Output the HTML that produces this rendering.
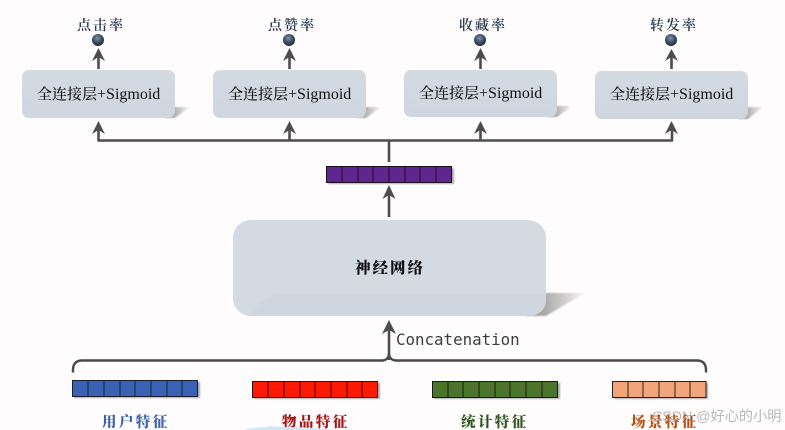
<!DOCTYPE html>
<html><head><meta charset="utf-8"><style>
html,body{margin:0;padding:0;background:#fefcfd;overflow:hidden}
svg{display:block}
.s{font-family:"Liberation Serif","Noto Serif CJK SC",serif}
.c{font-family:"Noto Serif CJK SC",serif}
</style></head><body>
<svg width="785" height="430" viewBox="0 0 785 430" xmlns="http://www.w3.org/2000/svg">
<defs>
<radialGradient id="b" cx="45%" cy="35%" r="65%"><stop offset="0" stop-color="#7f93aa"/><stop offset=".55" stop-color="#3c5068"/><stop offset="1" stop-color="#1f2c3c"/></radialGradient>
<linearGradient id="fb" x1="0" y1="0" x2="0" y2="1"><stop offset="0" stop-color="#d3dae2"/><stop offset="1" stop-color="#cfd6e0"/></linearGradient>
<linearGradient id="sh" x1="0" y1="0" x2="1" y2="0"><stop offset=".3" stop-color="#a8a6a6"/><stop offset="1" stop-color="#f6f4f5"/></linearGradient>
<filter id="bl" x="-20%" y="-20%" width="140%" height="140%"><feGaussianBlur stdDeviation=".8"/></filter>
</defs>
<rect width="785" height="430" fill="#fefcfd"/>

<!-- box shadows -->
<g filter="url(#bl)">
<path d="M170 107H190L175 118H165Z" fill="url(#sh)"/>
<path d="M361 107H381L366 118H356Z" fill="url(#sh)"/>
<path d="M552 106H572L557 117H547Z" fill="url(#sh)"/>
<path d="M743 107H763L748 119H738Z" fill="url(#sh)"/>
<path d="M535 293H585L546 316H525Z" fill="url(#sh)"/>
</g>

<!-- boxes -->
<rect x="22" y="70" width="153" height="48" rx="7" fill="url(#fb)"/>
<rect x="213" y="70" width="153" height="48" rx="7" fill="url(#fb)"/>
<rect x="404" y="70" width="153" height="47" rx="7" fill="url(#fb)"/>
<rect x="595" y="71" width="153" height="48" rx="7" fill="url(#fb)"/>
<rect x="233" y="220" width="313" height="96" rx="18" fill="#d3dae2"/>
<path d="M247 316C256 307 265 295 285 294H546V300C546 310 538 316 528 316Z" fill="#cfd6e0"/>

<!-- box labels -->
<g fill="#111" font-size="15" class="s" font-weight="500">
<text x="37" y="99">全连接层<tspan font-size="16">+Sigmoid</tspan></text>
<text x="228" y="99">全连接层<tspan font-size="16">+Sigmoid</tspan></text>
<text x="419" y="98">全连接层<tspan font-size="16">+Sigmoid</tspan></text>
<text x="610" y="99">全连接层<tspan font-size="16">+Sigmoid</tspan></text>
</g>
<text x="355" y="273" font-size="15.5" font-weight="900" fill="#111" letter-spacing="2" class="c">神经网络</text>

<!-- top labels -->
<g font-size="14" fill="#22324a" letter-spacing="2" font-weight="600" class="c">
<text x="77" y="30">点击率</text>
<text x="268" y="30">点赞率</text>
<text x="459" y="30">收藏率</text>
<text x="650" y="30">转发率</text>
</g>

<!-- dots -->
<circle cx="98" cy="40" r="6" fill="url(#b)"/>
<circle cx="289" cy="40" r="6" fill="url(#b)"/>
<circle cx="480" cy="40" r="6" fill="url(#b)"/>
<circle cx="671" cy="40" r="6" fill="url(#b)"/>

<!-- connectors -->
<g fill="none" stroke="#4f4c4e" stroke-width="2.6">
<path d="M98.500 69V52M289.500 69V52M480.500 69V52M671.500 69V52"/>
<path d="M98.500 140.500V125M289.500 140.500V125M480.500 140.500V125M672 140.500V125"/>
<path d="M97.500 140.500H673"/>
<path d="M389 141V162"/>
<path d="M389 217V189"/>
<path d="M389 360V324"/>
</g>
<g fill="#4f4c4e">
<path d="M98.500 48L105 61L98.500 57L92 61Z"/>
<path d="M289.500 48L296 61L289.500 57L283 61Z"/>
<path d="M480.500 48L487 61L480.500 57L474 61Z"/>
<path d="M671.500 49L678 61L671.500 57L665 61Z"/>
<path d="M98.500 121L105 134L98.500 130L92 134Z"/>
<path d="M289.500 121L296 134L289.500 130L283 134Z"/>
<path d="M480.500 121L487 134L480.500 130L474 134Z"/>
<path d="M671.500 121L678 134L671.500 130L665 134Z"/>
<path d="M389 185L395.500 199L389 195L382.500 199Z"/>
<path d="M389 320L396 334L389 330L382 334Z"/>
</g>

<!-- brace -->
<path d="M73 372.500V370C73 364 76 360.500 82 360.500H382C386 360.500 388.500 358 389 354C389.500 358 392 360.500 396 360.500H697C703 360.500 706 364 706 370V372.500" fill="none" stroke="#4a4849" stroke-width="2.400"/>

<text x="396" y="345" font-family="'DejaVu Sans Mono','Liberation Mono',monospace" font-size="15.800" fill="#3d3b3d">Concatenation</text>

<!-- purple bar -->
<rect x="328" y="168" width="126" height="16" fill="#aaa" filter="url(#bl)"/>
<rect x="326.500" y="166.500" width="125" height="16" fill="#5f2690" stroke="#1b1020" stroke-width="1"/>
<path d="M342 166V183M358 166V183M373 166V183M389 166V183M405 166V183M420 166V183M436 166V183" stroke="#1b1020" stroke-width="1"/>

<!-- blue bar -->
<rect x="74" y="382" width="126" height="16" fill="#aaa" filter="url(#bl)"/>
<rect x="72.500" y="380.500" width="125" height="16" fill="#3a62b4" stroke="#1b2030" stroke-width="1"/>
<path d="M88 380V397M104 380V397M120 380V397M135 380V397M151 380V397M167 380V397M182 380V397" stroke="#1b2030" stroke-width="1"/>

<!-- red bar -->
<rect x="254" y="383" width="126" height="16" fill="#aaa" filter="url(#bl)"/>
<rect x="252.500" y="381.500" width="125" height="16" fill="#fe1a00" stroke="#301010" stroke-width="1"/>
<path d="M268 381V398M284 381V398M300 381V398M315 381V398M331 381V398M347 381V398M362 381V398" stroke="#301010" stroke-width="1"/>

<!-- green bar -->
<rect x="434" y="383" width="126" height="16" fill="#aaa" filter="url(#bl)"/>
<rect x="432.500" y="381.500" width="125" height="16" fill="#4b752d" stroke="#141f10" stroke-width="1"/>
<path d="M448 381V398M463 381V398M479 381V398M495 381V398M510 381V398M526 381V398M542 381V398" stroke="#141f10" stroke-width="1"/>

<!-- orange bar -->
<rect x="614" y="383" width="94" height="16" fill="#aaa" filter="url(#bl)"/>
<rect x="612.500" y="381.500" width="93.500" height="16" fill="#f2a579" stroke="#2a2020" stroke-width="1"/>
<path d="M628 381V398M643 381V398M659 381V398M675 381V398M690 381V398" stroke="#2a2020" stroke-width="1"/>

<!-- bottom labels -->
<g font-size="14.500" letter-spacing="2.400" font-weight="800" class="c">
<text x="102" y="427" fill="#3c62a8">用户特征</text>
<text x="282" y="427" fill="#a81212">物品特征</text>
<text x="461" y="427" fill="#2f5420">统计特征</text>
<text x="631" y="427" fill="#b84f10">场景特征</text>
</g>

<!-- faint cloud -->
<path d="M245 430C250 427 262 428 270 426C280 428 300 426 320 429L340 430Z" fill="#cfe8f6"/>

<!-- watermark -->
<text x="652" y="421" font-family="'Liberation Sans','Noto Sans CJK SC',sans-serif" font-size="14.200" fill="#8c8a8c" fill-opacity=".6">CSDN @好心的小明</text>
</svg>
</body></html>
